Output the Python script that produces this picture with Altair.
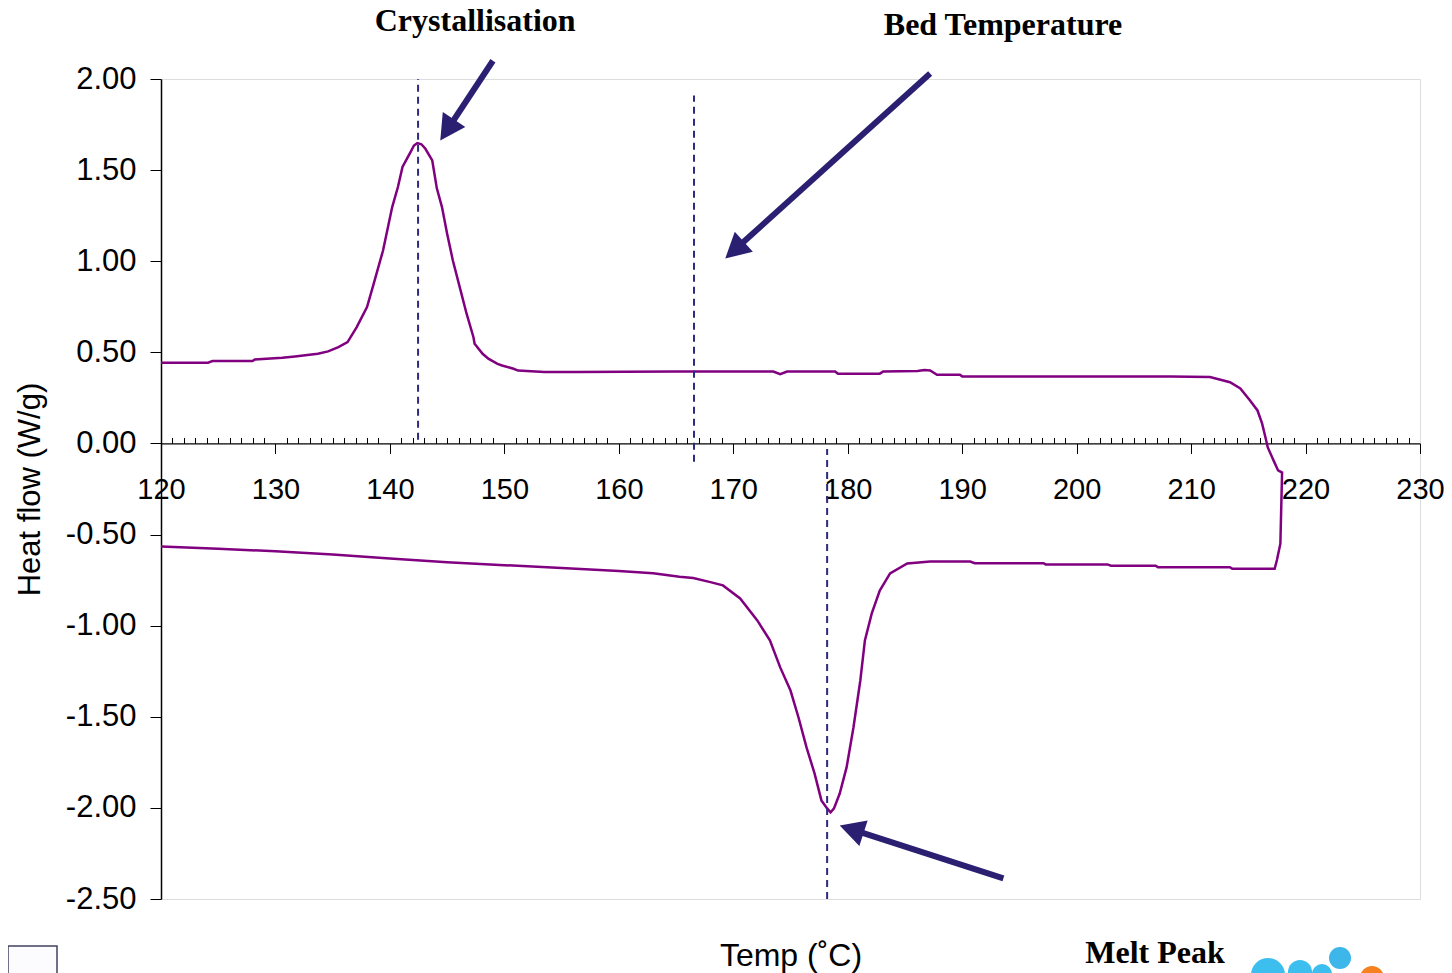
import math
import altair as alt
import pandas as pd

# ---------------- data ----------------
# heating scan (lower trace), in drawing order
heat_temp = [120.0, 125.0, 130.0, 135.0, 140.0, 145.0, 150.0, 155.0, 160.0, 163.0, 165.3,
             166.5, 168.0, 169.1, 170.6, 172.1, 173.2, 174.1, 175.0, 175.7, 176.4, 177.1,
             177.7, 178.2, 178.5, 178.8, 179.3, 179.9, 180.5, 181.1, 181.5, 182.1, 182.8,
             183.7, 185.2, 187.2, 190.7, 191.1, 197.1, 197.3, 202.7, 203.0, 206.9, 207.1,
             213.4, 213.6, 217.3, 217.5, 217.8, 217.95]
heat_flow = [-0.565, -0.578, -0.592, -0.610, -0.632, -0.652, -0.668, -0.683, -0.700, -0.713, -0.732,
             -0.739, -0.761, -0.779, -0.851, -0.971, -1.081, -1.229, -1.356, -1.504, -1.668, -1.811,
             -1.959, -2.003, -2.025, -2.003, -1.921, -1.778, -1.559, -1.301, -1.081, -0.933, -0.807,
             -0.713, -0.659, -0.648, -0.648, -0.657, -0.657, -0.664, -0.664, -0.671, -0.671, -0.679,
             -0.679, -0.688, -0.688, -0.640, -0.550, -0.160]

# cooling scan (upper trace), continuing from the end of the heating scan
cool_temp = [217.6, 217.2, 216.7, 216.5, 216.2, 215.8, 215.15, 214.3, 213.4, 211.65,
             208.2, 200.0, 190.0, 189.8, 187.8, 187.2, 186.7, 186.1, 183.1, 182.8,
             179.15, 178.9, 174.7, 174.1, 173.5, 165.0, 156.2, 153.5, 151.2, 150.8,
             149.8, 149.4, 148.6, 148.1, 147.4, 147.3, 146.7, 146.1, 145.5, 145.0,
             144.55, 144.1, 143.7, 143.1, 142.75, 142.4, 142.1, 141.8, 141.1, 140.7,
             140.2, 139.4, 138.5, 138.0, 137.1, 136.3, 135.5, 134.6, 133.7, 132.8,
             131.7, 130.6, 128.2, 128.0, 124.5, 124.1, 120.0]
cool_flow = [-0.148, -0.093, -0.022, 0.033, 0.110, 0.181, 0.236, 0.302, 0.336, 0.364,
             0.368, 0.368, 0.368, 0.377, 0.377, 0.400, 0.403, 0.397, 0.395, 0.383,
             0.383, 0.395, 0.395, 0.380, 0.395, 0.395, 0.392, 0.392, 0.400, 0.410,
             0.428, 0.437, 0.465, 0.492, 0.547, 0.583, 0.712, 0.858, 1.004, 1.151,
             1.297, 1.400, 1.553, 1.617, 1.642, 1.648, 1.635, 1.599, 1.517, 1.407,
             1.297, 1.059, 0.858, 0.748, 0.638, 0.556, 0.529, 0.505, 0.492, 0.485,
             0.477, 0.470, 0.461, 0.452, 0.452, 0.443, 0.443]

# axis ticks
x_major = list(range(120, 231, 10))
x_minor = [v for v in range(120, 231) if v % 10 != 0]
y_ticks = [-2.5, -2.0, -1.5, -1.0, -0.5, 0.0, 0.5, 1.0, 1.5, 2.0]

# dashed marker lines (temperature, from, to)
vline_temp = [142.46, 166.57, 178.2]
vline_from = [0.02, -0.10, -2.5]
vline_to = [2.0, 1.91, -0.03]

# annotation labels (alphabetic baseline)
label_text = ["Crystallisation", "Bed Temperature", "Melt Peak"]
label_temp = [147.45, 193.57, 206.85]
label_flow = [2.261, 2.239, -2.849]

# arrows (tail -> tip)
arrow_from_t = [149.0, 187.2, 193.6]
arrow_from_hf = [2.10, 2.03, -2.387]
arrow_to_t = [144.4, 169.3, 179.3]
arrow_to_hf = [1.663, 1.015, -2.097]

# ---------------- layout ----------------
W, H = 1259, 820
X_MIN, X_MAX = 120, 230
Y_MIN, Y_MAX = -2.5, 2.0
FONT = "Liberation Sans"
SERIF = "Liberation Serif"
NAVY = "#2B1F72"
DASH = "#2E2A7C"

xs = alt.Scale(domain=[X_MIN, X_MAX], nice=False, zero=False)
ys = alt.Scale(domain=[Y_MIN, Y_MAX], nice=False, zero=False)


def to_px(t, h):
    return ((t - X_MIN) / (X_MAX - X_MIN) * W, (Y_MAX - h) / (Y_MAX - Y_MIN) * H)


def to_data(px, py):
    return (X_MIN + px / W * (X_MAX - X_MIN), Y_MAX - py / H * (Y_MAX - Y_MIN))


zero_offset = -H * (0 - Y_MIN) / (Y_MAX - Y_MIN)
top_offset = -H * (Y_MAX - 0) / (Y_MAX - Y_MIN)

curve_df = pd.DataFrame({"t": heat_temp + cool_temp, "hf": heat_flow + cool_flow})
curve_df["i"] = range(len(curve_df))

x_axis = alt.Axis(
    orient="bottom", offset=zero_offset, values=x_major, tickSize=10, tickColor="black",
    tickWidth=1, domainColor="black", domainWidth=1.2, labelFont=FONT, labelFontSize=29,
    labelColor="black", labelPadding=22, labelFlush=False, labelOverlap=False, grid=False,
    title="Temp (˚C)", titleFont=FONT, titleFontSize=32, titleFontWeight="normal",
    titleColor="black", titleX=W / 2, titleY=512, titleAlign="center", titleBaseline="middle",
)
y_axis = alt.Axis(
    orient="left", values=y_ticks, format=".2f",
    tickSize=11, tickColor="black", tickWidth=1, domainColor="black", domainWidth=1.5,
    labelFont=FONT, labelFontSize=31, labelColor="black", labelPadding=14, grid=False,
    title="Heat flow (W/g)", titleFont=FONT, titleFontSize=31, titleFontWeight="normal",
    titleColor="black", titleX=-131, titleY=H / 2, titleAngle=-90, titleAlign="center",
    titleBaseline="middle",
)
minor_axis = alt.Axis(
    orient="top", offset=top_offset, values=x_minor, tickSize=6, tickColor="black",
    tickWidth=1, labels=False, domain=False, grid=False, title=None,
)


def Y(field):
    return alt.Y(field, scale=ys, axis=y_axis, title="Heat flow (W/g)")


curve = alt.Chart(curve_df).mark_line(color="#800080", strokeWidth=2.5).encode(
    x=alt.X("t:Q", scale=xs, axis=x_axis),
    y=Y("hf:Q"),
    order="i:Q",
)

vline_df = pd.DataFrame({"t": vline_temp, "y1": vline_from, "y2": vline_to})
vlines = alt.Chart(vline_df).mark_rule(color=DASH, strokeWidth=2, strokeDash=[7, 5]).encode(
    x=alt.X("t:Q", scale=xs, axis=minor_axis),
    y=Y("y1:Q"),
    y2="y2:Q",
)

# arrows
HEAD_LEN = 25.0
shaft_rows, head_rows = [], []
for t0, h0, t1, h1 in zip(arrow_from_t, arrow_from_hf, arrow_to_t, arrow_to_hf):
    x0, y0 = to_px(t0, h0)
    x1, y1 = to_px(t1, h1)
    dx, dy = x1 - x0, y1 - y0
    L = math.hypot(dx, dy)
    ux, uy = dx / L, dy / L
    bt, bh = to_data(x1 - ux * HEAD_LEN * 0.8, y1 - uy * HEAD_LEN * 0.8)
    ct, ch = to_data(x1 - ux * HEAD_LEN / 2, y1 - uy * HEAD_LEN / 2)
    ang = math.degrees(math.atan2(ux, -uy)) % 360
    shaft_rows.append({"t": t0, "hf": h0, "t2": bt, "hf2": bh})
    head_rows.append({"t": ct, "hf": ch, "ang": ang})

shafts = alt.Chart(pd.DataFrame(shaft_rows)).mark_rule(
    color=NAVY, strokeWidth=6, strokeCap="butt").encode(
    x=alt.X("t:Q", scale=xs, axis=None),
    y=Y("hf:Q"),
    x2="t2:Q", y2="hf2:Q",
)
heads = alt.Chart(pd.DataFrame(head_rows)).mark_point(
    shape="M0,-0.925L1,0.925L-1,0.925Z", filled=True, color=NAVY, opacity=1,
    size=27 * 27, strokeWidth=0).encode(
    x=alt.X("t:Q", scale=xs, axis=None),
    y=Y("hf:Q"),
    angle=alt.Angle("ang:Q", scale=None),
)

labels = alt.Chart(pd.DataFrame({"txt": label_text, "t": label_temp, "hf": label_flow})).mark_text(
    font=SERIF, fontSize=32, fontWeight="bold", color="black", align="center",
    baseline="alphabetic").encode(
    x=alt.X("t:Q", scale=xs, axis=None),
    y=Y("hf:Q"),
    text="txt:N",
)

# small decorations at the page bottom (slide residue: box and logo)
box_t, box_h = to_data(8 - 161, 946 - 79)
box_t2, box_h2 = to_data(57 - 161, 995 - 79)
box = alt.Chart(pd.DataFrame({"t": [box_t], "t2": [box_t2], "hf": [box_h], "hf2": [box_h2]})).mark_rect(
    fill="#FCFCFF", stroke="#404060", strokeWidth=1.5).encode(
    x=alt.X("t:Q", scale=xs, axis=None), x2="t2:Q",
    y=Y("hf:Q"), y2="hf2:Q",
)

logo_px = [1268, 1300, 1322, 1340, 1372]
logo_py = [975, 972, 974, 958, 978]
logo_r = [17, 12, 10, 11, 12]
logo_col = ["#3CBFEE", "#3CBFEE", "#3CBFEE", "#3DB6EA", "#F5821F"]
logo_rows = []
for px, py, r, c in zip(logo_px, logo_py, logo_r, logo_col):
    lt, lh = to_data(px - 161, py - 79)
    logo_rows.append({"t": lt, "hf": lh, "s": (2 * r) ** 2, "c": c})
logo = alt.Chart(pd.DataFrame(logo_rows)).mark_point(shape="circle", filled=True, opacity=1, strokeWidth=0).encode(
    x=alt.X("t:Q", scale=xs, axis=None),
    y=Y("hf:Q"),
    size=alt.Size("s:Q", scale=None),
    color=alt.Color("c:N", scale=None),
)

chart = alt.layer(curve, vlines, shafts, heads, labels, box, logo).resolve_axis(
    x="independent", y="shared"
).properties(
    width=W, height=H,
    padding={"left": 153, "top": 71, "right": 24, "bottom": 74},
    autosize=alt.AutoSizeParams(type="none"),
).configure_view(
    stroke="#8A8A8A", strokeWidth=1.5
).configure(
    locale={"number": {"decimal": ".", "thousands": ",", "grouping": [3],
                       "currency": ["$", ""], "minus": "-"}}
)

chart.save("out.html", embed_options={"renderer": "svg", "actions": False})
